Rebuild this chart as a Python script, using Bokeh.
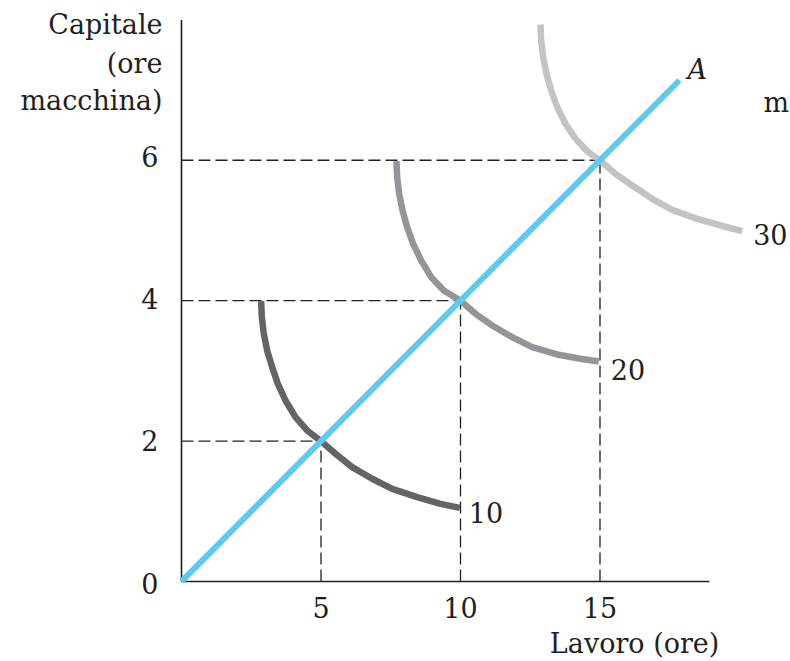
from bokeh.plotting import figure
from bokeh.models import Range1d, Label, ColumnDataSource
from bokeh.core.properties import value
from bokeh.embed import file_html
from bokeh.resources import INLINE

# ---- data ----
q10_x = [2.855, 2.879, 2.951, 3.070, 3.250, 3.453, 3.728, 4.086, 4.504, 5.000,
         5.520, 6.117, 6.834, 7.551, 8.447, 9.283, 9.976]
q10_y = [3.993, 3.765, 3.528, 3.291, 3.053, 2.816, 2.578, 2.341, 2.151, 2.000,
         1.819, 1.629, 1.463, 1.320, 1.201, 1.106, 1.049]

q20_x = [7.706, 7.730, 7.802, 7.921, 8.088, 8.303, 8.590, 8.949, 9.403, 10.000,
         10.538, 11.135, 11.852, 12.569, 13.465, 14.301, 14.958]
q20_y = [5.988, 5.760, 5.522, 5.285, 5.047, 4.810, 4.573, 4.335, 4.145, 4.000,
         3.813, 3.647, 3.480, 3.338, 3.234, 3.172, 3.134]

q30_x = [12.867, 12.891, 12.963, 13.082, 13.250, 13.465, 13.763, 14.122, 14.540, 15.000,
         15.556, 16.153, 16.870, 17.587, 18.483, 19.319, 20.096]
q30_y = [7.934, 7.707, 7.469, 7.232, 6.994, 6.757, 6.520, 6.306, 6.130, 6.000,
         5.807, 5.641, 5.451, 5.294, 5.166, 5.071, 4.991]

iso_labels = ["10", "20", "30"]

ray_x = [0, 17.85]
ray_y = [0, 7.14]
ray_label = "A"

eq_x = [5, 10, 15]
eq_y = [2, 4, 6]

x_ticks = [5, 10, 15]
y_ticks = [0, 2, 4, 6]
x_axis_end = 18.92
y_axis_end = 8.0

y_title = ["Capitale", "(ore", "macchina)"]
x_title = "Lavoro (ore)"
stray_text = "m"

# ---- styling / placement ----
FONT = "DejaVu Serif"
FS = "27px"
TXT = "#231f20"
iso_colors = ["#636466", "#939598", "#c2c3c5"]
BLUE = "#62c8f0"

W, H = 790, 661
p = figure(width=W, height=H, output_backend="svg", toolbar_location=None,
           x_range=Range1d(-6.487, 21.828), y_range=Range1d(-1.140, 8.276),
           x_axis_location=None, y_axis_location=None, min_border=0)
p.grid.visible = False
p.outline_line_color = None
p.background_fill_color = "white"
p.border_fill_color = "white"

# dashed guides
p.segment(x0=[0] * len(eq_x), y0=eq_y, x1=eq_x, y1=eq_y,
          line_color=TXT, line_width=1.3, line_dash="12 5")
p.segment(x0=eq_x, y0=[0] * len(eq_x), x1=eq_x, y1=eq_y,
          line_color=TXT, line_width=1.3, line_dash="12 5")

# axis lines
p.segment(x0=[0, 0], y0=[0, 0], x1=[0, x_axis_end], y1=[y_axis_end, 0],
          line_color=TXT, line_width=1.6)

# tick labels
xt = ColumnDataSource(dict(x=x_ticks, y=[0] * len(x_ticks),
                           t=[str(v) for v in x_ticks]))
p.text(x="x", y="y", text="t", source=xt, text_align="center",
       text_baseline="middle", y_offset=26.5, text_font=value(FONT),
       text_font_size=value(FS), text_color=TXT)
yt = ColumnDataSource(dict(x=[0] * len(y_ticks), y=y_ticks,
                           t=[str(v) for v in y_ticks], dy=[2.5, -0.5, -2.5, -3.5]))
p.text(x="x", y="y", text="t", source=yt, text_align="right",
       text_baseline="middle", x_offset=-23, y_offset="dy",
       text_font=value(FONT), text_font_size=value(FS), text_color=TXT)

# isoquants
curves = [(q10_x, q10_y), (q20_x, q20_y), (q30_x, q30_y)]
for (cx, cy), col in zip(curves, iso_colors):
    p.line(cx, cy, line_color=col, line_width=6.5, line_join="round")

# ray A
p.line(ray_x, ray_y, line_color=BLUE, line_width=6)

# labels
lab_dx = [9, 12, 11]
lab_dy = [-5, -8, -3]
for (cx, cy), t, dx, dy in zip(curves, iso_labels, lab_dx, lab_dy):
    p.add_layout(Label(x=cx[-1], y=cy[-1], text=t, x_offset=dx, y_offset=dy,
                       text_font=FONT, text_font_size=FS, text_color=TXT,
                       text_baseline="middle", text_align="left"))

p.add_layout(Label(x=ray_x[-1], y=ray_y[-1], text=ray_label, x_offset=8, y_offset=11,
                   text_font=FONT, text_font_size=FS, text_color=TXT,
                   text_font_style="italic", text_baseline="middle"))

title_y = [7.927, 7.372, 6.845]
for t, ty in zip(y_title, title_y):
    p.add_layout(Label(x=0, y=ty, text=t, x_offset=-19,
                       text_font=FONT, text_font_size=FS, text_color=TXT,
                       text_align="right", text_baseline="middle"))

p.add_layout(Label(x=16.24, y=-0.89, text=x_title,
                   text_font=FONT, text_font_size=FS, text_color=TXT,
                   text_align="center", text_baseline="middle"))

p.add_layout(Label(x=20.86, y=6.83, text=stray_text,
                   text_font=FONT, text_font_size=FS, text_color=TXT,
                   text_align="left", text_baseline="middle"))

open("out.html", "w").write(file_html(p, INLINE))
